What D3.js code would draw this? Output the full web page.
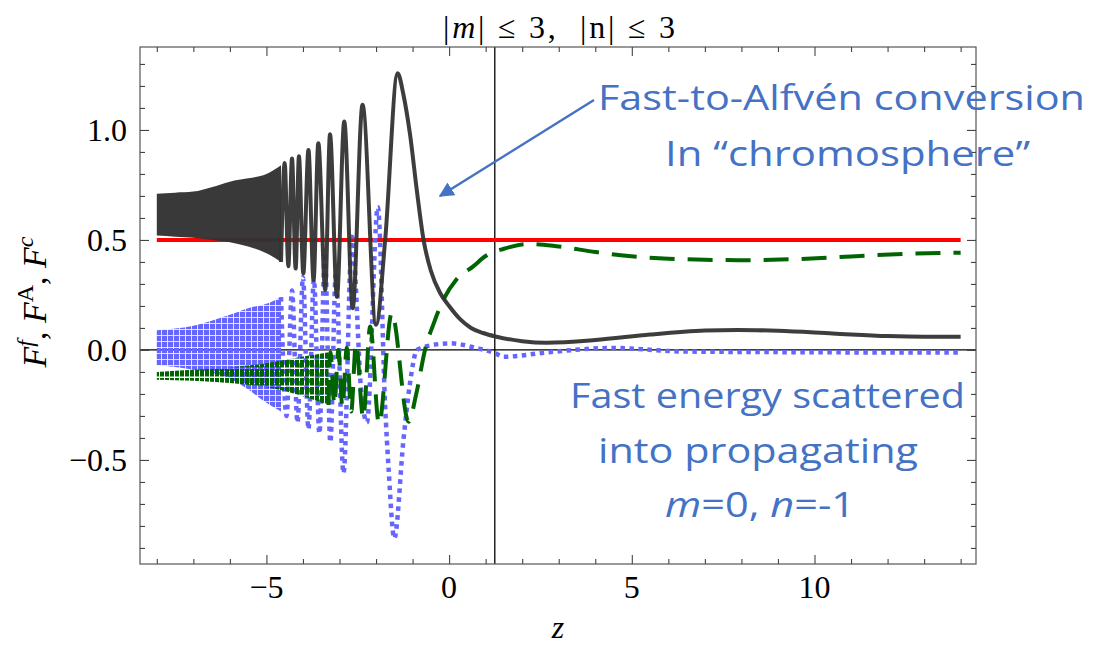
<!DOCTYPE html>
<html>
<head>
<meta charset="utf-8">
<script src="https://cdn.jsdelivr.net/npm/d3@7"></script>
<style>
  html, body { margin: 0; padding: 0; background: #fff; }
  svg { display: block; }
</style>
</head>
<body>
<svg id="chart" width="1115" height="650"></svg>
<script>
// ---------------- DATA ----------------
const xTicksMajor = [-5, 0, 5, 10];
const xTickLabels = ["\u22125", "0", "5", "10"];
const yTicksMajor = [-0.5, 0.0, 0.5, 1.0];
const yTickLabels = ["\u22120.5", "0.0", "0.5", "1.0"];
const verticalMarkerZ = 1.25;

// red constant line
const redZ = [-8, 14];
const redV = [0.5, 0.5];

// black (F^f): dense band envelope
const blackBandZ   = [-8.0, -7.5, -7.0, -6.5, -6.0, -5.5, -5.0, -4.6];
const blackBandTop = [0.71, 0.715, 0.72, 0.74, 0.765, 0.78, 0.80, 0.84];
const blackBandBot = [0.52, 0.515, 0.51, 0.50, 0.49, 0.47, 0.44, 0.40];
// black resolved oscillations + tail
const blackZ = [-4.6, -4.5, -4.4, -4.3, -4.2, -4.11, -3.99, -3.85, -3.71, -3.58, -3.39, -3.26, -3.07, -2.87, -2.64, -2.37, -2.00, -1.75, -1.41, -1.25, -1.07, -0.88, -0.70, -0.50, -0.25, 0.0, 0.3, 0.6, 0.93, 1.3, 2.0, 2.67, 4.0, 5.5, 7.0, 7.9, 9.0, 10.5, 12.0, 13.0, 14.0];
const blackV = [0.40, 0.85, 0.38, 0.87, 0.37, 0.88, 0.348, 0.909, 0.318, 0.94, 0.273, 0.98, 0.242, 1.038, 0.19, 1.114, 0.114, 0.5, 1.258, 1.16, 0.98, 0.72, 0.5, 0.36, 0.26, 0.2, 0.14, 0.10, 0.077, 0.06, 0.04, 0.033, 0.045, 0.07, 0.088, 0.091, 0.087, 0.075, 0.063, 0.06, 0.06];

// green (F^c): dense band envelope
const greenBandZ   = [-8.0, -7.0, -6.0, -5.0, -4.0, -3.3];
const greenBandTop = [-0.10, -0.09, -0.08, -0.06, -0.03, -0.01];
const greenBandBot = [-0.135, -0.14, -0.15, -0.17, -0.21, -0.25];
const greenZ = [-3.3, -3.25, -3.14, -3.03, -2.92, -2.80, -2.68, -2.55, -2.35, -2.16, -1.92, -1.57, -1.11, -0.90, -0.66, -0.40, -0.16, 0.2, 0.66, 1.0, 1.5, 2.2, 3.0, 4.0, 4.7, 6.0, 7.0, 8.2, 9.5, 11.0, 12.5, 14.0];
const greenV = [-0.25, -0.01, -0.25, 0.0, -0.26, 0.01, -0.28, 0.03, -0.31, 0.106, -0.336, 0.167, -0.326, -0.2, 0.0, 0.13, 0.227, 0.32, 0.38, 0.427, 0.46, 0.482, 0.47, 0.445, 0.43, 0.415, 0.41, 0.408, 0.413, 0.425, 0.437, 0.442];

// blue (F^A): dense band envelope
const blueBandZ   = [-8.0, -7.0, -6.0, -5.5, -5.0, -4.6];
const blueBandTop = [0.09, 0.11, 0.16, 0.19, 0.21, 0.24];
const blueBandBot = [-0.07, -0.09, -0.13, -0.18, -0.24, -0.28];
const blueZ = [-4.6, -4.45, -4.3, -4.15, -4.0, -3.85, -3.7, -3.55, -3.4, -3.25, -3.1, -2.89, -2.66, -2.4, -2.25, -1.95, -1.75, -1.66, -1.5, -1.25, -1.07, -0.88, -0.43, 0.03, 0.76, 1.26, 1.49, 2.68, 4.5, 6.35, 9.1, 14.0];
const blueV = [0.24, -0.3, 0.27, -0.33, 0.33, -0.36, 0.32, -0.38, 0.44, -0.42, 0.35, -0.56, 0.515, -0.2, -0.33, 0.65, -0.26, -0.53, -0.856, -0.41, -0.15, 0.0, 0.023, 0.03, 0.008, -0.015, -0.031, -0.011, 0.009, -0.007, -0.01, -0.012];

// ---------------- CHART ----------------
const svg = d3.select("#chart");
const L = 140, R = 976, T = 47, B = 564;
const x = d3.scaleLinear().domain([-8.46, 14.42]).range([L, R]);
const y = d3.scaleLinear().domain([-0.973, 1.377]).range([B, T]);

const serif = "'Liberation Serif', 'Times New Roman', serif";
const sans = "'Open Sans', 'Noto Sans', sans-serif";
const annColor = "#4472C4";

const defs = svg.append("defs");
defs.append("clipPath").attr("id", "clip")
  .append("rect").attr("x", L).attr("y", T).attr("width", R - L).attr("height", B - T);
const pat = defs.append("pattern").attr("id", "dots").attr("patternUnits", "userSpaceOnUse")
  .attr("width", 6).attr("height", 6);
pat.append("rect").attr("width", 5.2).attr("height", 5.2).attr("fill", "#6666ff");
const gpat = defs.append("pattern").attr("id", "dash").attr("patternUnits", "userSpaceOnUse")
  .attr("width", 5).attr("height", 9);
gpat.append("rect").attr("width", 4).attr("height", 7.5).attr("fill", "#006400");

const zip = (a, b) => a.map((v, i) => [v, b[i]]);
const line = d3.line().x(d => x(d[0])).y(d => y(d[1])).curve(d3.curveMonotoneX);
const bandArea = (zs, top, bot) => d3.area()
  .x((d, i) => x(zs[i])).y0((d, i) => y(bot[i])).y1((d, i) => y(top[i]))
  .curve(d3.curveMonotoneX)(zs);

const plot = svg.append("g").attr("clip-path", "url(#clip)");

// axes lines (y=0 and vertical marker)
plot.append("line").attr("x1", L).attr("x2", R).attr("y1", y(0)).attr("y2", y(0))
  .attr("stroke", "#000").attr("stroke-width", 1.3);
plot.append("line").attr("x1", x(verticalMarkerZ)).attr("x2", x(verticalMarkerZ)).attr("y1", T).attr("y2", B)
  .attr("stroke", "#000").attr("stroke-width", 1.3);

// red
plot.append("path").attr("d", line(zip(redZ, redV))).attr("fill", "none")
  .attr("stroke", "#ff0000").attr("stroke-width", 4);

// blue dotted
plot.append("path").attr("d", bandArea(blueBandZ, blueBandTop, blueBandBot))
  .attr("fill", "url(#dots)");
plot.append("path").attr("d", line(zip(blueZ, blueV))).attr("fill", "none")
  .attr("stroke", "#6666ff").attr("stroke-width", 4.5).attr("stroke-dasharray", "4.5,4.5");

// green dashed
plot.append("path").attr("d", bandArea(greenBandZ, greenBandTop, greenBandBot))
  .attr("fill", "url(#dash)");
plot.append("path").attr("d", line(zip(greenZ, greenV))).attr("fill", "none")
  .attr("stroke", "#006400").attr("stroke-width", 4).attr("stroke-dasharray", "25,13");

// black
plot.append("path").attr("d", bandArea(blackBandZ, blackBandTop, blackBandBot))
  .attr("fill", "#333").attr("opacity", 0.97);
plot.append("path").attr("d", line(zip(blackZ, blackV))).attr("fill", "none")
  .attr("stroke", "#333").attr("stroke-width", 4).attr("opacity", 0.95);

// frame
svg.append("rect").attr("x", L).attr("y", T).attr("width", R - L).attr("height", B - T)
  .attr("fill", "none").attr("stroke", "#555").attr("stroke-width", 1.2);

// ticks
const xMinor = d3.range(-8, 15, 1).filter(v => !xTicksMajor.includes(v));
const yMinor = d3.range(-9, 14, 1).map(v => v / 10).filter(v => !yTicksMajor.some(t => Math.abs(t - v) < 1e-9));
function styleAxis(g) {
  g.select(".domain").remove();
  g.selectAll(".tick line").attr("stroke", "#444").attr("stroke-width", 1.1);
  g.selectAll("text").remove();
}
svg.append("g").attr("transform", `translate(0,${B})`).call(d3.axisBottom(x).tickValues(xTicksMajor).tickSize(-9)).call(styleAxis);
svg.append("g").attr("transform", `translate(0,${B})`).call(d3.axisBottom(x).tickValues(xMinor).tickSize(-5)).call(styleAxis);
svg.append("g").attr("transform", `translate(0,${T})`).call(d3.axisTop(x).tickValues(xTicksMajor).tickSize(-9)).call(styleAxis);
svg.append("g").attr("transform", `translate(0,${T})`).call(d3.axisTop(x).tickValues(xMinor).tickSize(-5)).call(styleAxis);
svg.append("g").attr("transform", `translate(${L},0)`).call(d3.axisLeft(y).tickValues(yTicksMajor).tickSize(-9)).call(styleAxis);
svg.append("g").attr("transform", `translate(${L},0)`).call(d3.axisLeft(y).tickValues(yMinor).tickSize(-5)).call(styleAxis);
svg.append("g").attr("transform", `translate(${R},0)`).call(d3.axisRight(y).tickValues(yTicksMajor).tickSize(-9)).call(styleAxis);
svg.append("g").attr("transform", `translate(${R},0)`).call(d3.axisRight(y).tickValues(yMinor).tickSize(-5)).call(styleAxis);

// tick labels
svg.append("g").selectAll("text").data(xTicksMajor).join("text")
  .attr("x", d => x(d)).attr("y", 598).attr("text-anchor", "middle")
  .attr("font-family", serif).attr("font-size", 32).attr("fill", "#000")
  .text((d, i) => xTickLabels[i]);
svg.append("g").selectAll("text").data(yTicksMajor).join("text")
  .attr("x", 127).attr("y", d => y(d)).attr("dy", "0.35em").attr("text-anchor", "end")
  .attr("font-family", serif).attr("font-size", 32).attr("fill", "#000")
  .text((d, i) => yTickLabels[i]);

// title
const title = svg.append("text").attr("x", 443).attr("y", 38)
  .attr("font-family", serif).attr("font-size", 32).attr("fill", "#000")
  .attr("textLength", 232).attr("lengthAdjust", "spacing");
title.append("tspan").text("|");
title.append("tspan").attr("font-style", "italic").text("m");
title.append("tspan").text("| \u2264 3,\u00A0\u00A0|n| \u2264 3");

// x label
svg.append("text").attr("x", 558).attr("y", 638).attr("text-anchor", "middle")
  .attr("font-family", serif).attr("font-size", 32).attr("font-style", "italic").text("z");

// y label
const yl = svg.append("text").attr("transform", "translate(46,302) rotate(-90)").attr("text-anchor", "middle")
  .attr("font-family", serif).attr("font-size", 34).attr("fill", "#000");
yl.append("tspan").attr("font-style", "italic").text("F");
yl.append("tspan").attr("font-style", "italic").attr("font-size", 24).attr("dy", -13).text("f");
yl.append("tspan").attr("dy", 13).text(", ");
yl.append("tspan").attr("font-style", "italic").text("F");
yl.append("tspan").attr("font-size", 24).attr("dy", -13).text("A");
yl.append("tspan").attr("dy", 13).text(", ");
yl.append("tspan").attr("font-style", "italic").text("F");
yl.append("tspan").attr("font-style", "italic").attr("font-size", 24).attr("dy", -13).text("c");

// annotations
function ann(xs, ys, len, parts) {
  const t = svg.append("text").attr("x", xs).attr("y", ys)
    .attr("font-family", sans).attr("font-size", 34).attr("fill", annColor)
    .attr("textLength", len).attr("lengthAdjust", "spacingAndGlyphs");
  parts.forEach(p => {
    const s = t.append("tspan").text(p[0]);
    if (p[1]) s.attr("font-style", "italic");
  });
}
ann(598, 110, 487, [["Fast-to-Alfv\u00e9n conversion"]]);
ann(665, 166, 365, [["In \u201cchromosphere\u201d"]]);
ann(570, 408, 395, [["Fast energy scattered"]]);
ann(598, 463, 320, [["into propagating"]]);
ann(665, 517, 190, [["m", true], ["=0, "], ["n", true], ["=-1"]]);

// arrow
defs.append("marker").attr("id", "ah").attr("viewBox", "0 0 10 10").attr("refX", 9).attr("refY", 5)
  .attr("markerWidth", 6).attr("markerHeight", 6).attr("orient", "auto-start-reverse")
  .append("path").attr("d", "M0,0 L10,5 L0,10 z").attr("fill", annColor);
svg.append("line").attr("x1", 594).attr("y1", 100).attr("x2", 440).attr("y2", 196)
  .attr("stroke", annColor).attr("stroke-width", 2.5).attr("marker-end", "url(#ah)");
</script>
</body>
</html>
